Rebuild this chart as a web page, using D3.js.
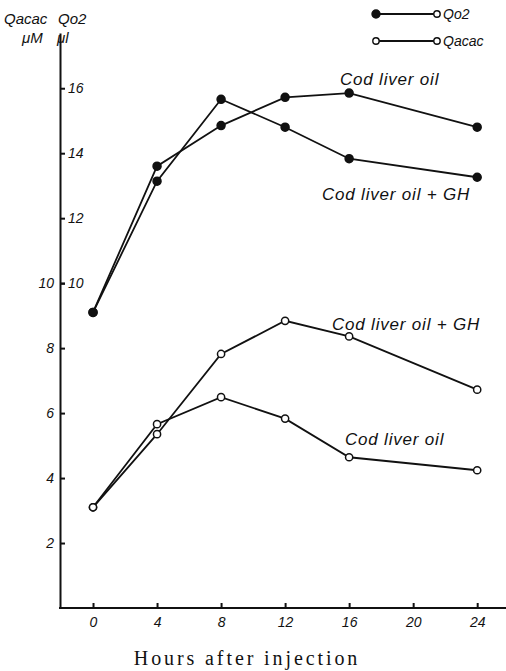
<!DOCTYPE html>
<html>
<head>
<meta charset="utf-8">
<script src="https://cdn.jsdelivr.net/npm/d3@7"></script>
<style>
  body { margin: 0; background: #fff; }
  svg text { fill: #111; }
  .axis path, .axis line { stroke: #111; stroke-width: 2; }
  .axis text { font-family: "Liberation Sans", sans-serif; font-style: italic; font-size: 14px; }
</style>
</head>
<body>
<div class="canvas"></div>
<script>
// hours after injection
const hours = [0, 4, 8, 12, 16, 24];
const xTicks = [0, 4, 8, 12, 16, 20, 24];
const leftTicks = [2, 4, 6, 8, 10];
const rightTicks = [10, 12, 14, 16];

// Qo2 (ul), filled circles
const qo2Cod = [9.1, 13.6, 14.85, 15.72, 15.85, 14.8];
const qo2CodGH = [9.1, 13.14, 15.66, 14.8, 13.83, 13.26];
// Qacac (uM), open circles
const qacacCodGH = [3.1, 5.35, 7.82, 8.84, 8.36, 6.72];
const qacacCod = [3.1, 5.66, 6.49, 5.83, 4.64, 4.24];

const width = 506, height = 671;

const svg = d3.select(".canvas")
    .append("svg")
    .attr("width", width)
    .attr("height", height);

const x = d3.scaleLinear().domain([-2, 25.8]).range([61, 506]);
const y = d3.scaleLinear().domain([0, 17.7]).range([608, 33]);
const axisX = x(-2) - 1;

// axes
const xAxis = d3.axisBottom(x)
    .tickValues(xTicks)
    .tickSizeInner(-5)
    .tickSizeOuter(0)
    .tickPadding(9);
svg.append("g")
    .attr("class", "axis")
    .attr("transform", `translate(0, ${y(0)})`)
    .call(xAxis)
    .call(g => g.select(".domain").attr("d", `M${axisX - 1},0H506`));

const yLeft = d3.axisLeft(y)
    .tickValues(leftTicks)
    .tickSizeInner(-5)
    .tickSizeOuter(0)
    .tickPadding(6);
svg.append("g")
    .attr("class", "axis")
    .attr("transform", `translate(${axisX}, 0)`)
    .call(yLeft);

const yRight = d3.axisRight(y)
    .tickValues(rightTicks)
    .tickSizeInner(5)
    .tickSizeOuter(0)
    .tickPadding(3);
svg.append("g")
    .attr("class", "axis")
    .attr("transform", `translate(${axisX}, 0)`)
    .call(yRight)
    .call(g => g.select(".domain").remove());

svg.selectAll(".axis text").attr("fill", "#111");

// series
const line = d3.line()
    .x((d, i) => x(hours[i]))
    .y(d => y(d));

const series = [
    { values: qo2Cod, filled: true },
    { values: qo2CodGH, filled: true },
    { values: qacacCodGH, filled: false },
    { values: qacacCod, filled: false }
];

series.forEach(s => {
    svg.append("path")
        .datum(s.values)
        .attr("d", line)
        .attr("fill", "none")
        .attr("stroke", "#111")
        .attr("stroke-width", 1.8);

    svg.append("g")
        .selectAll("circle")
        .data(s.values)
        .enter()
        .append("circle")
        .attr("cx", (d, i) => x(hours[i]))
        .attr("cy", d => y(d))
        .attr("r", s.filled ? 4 : 3.6)
        .attr("fill", s.filled ? "#111" : "#fff")
        .attr("stroke", "#111")
        .attr("stroke-width", 1.5);
});

// curve labels
const labels = [
    { text: "Cod liver oil", x: 340, y: 85 },
    { text: "Cod liver oil + GH", x: 322, y: 200 },
    { text: "Cod liver oil + GH", x: 332, y: 330 },
    { text: "Cod liver oil", x: 345, y: 445 }
];
svg.selectAll(".curve-label")
    .data(labels)
    .enter()
    .append("text")
    .attr("class", "curve-label")
    .attr("x", d => d.x)
    .attr("y", d => d.y)
    .style("font-family", "Liberation Sans, sans-serif")
    .style("font-style", "italic")
    .style("font-size", "17px")
    .style("letter-spacing", "0.8px")
    .text(d => d.text);

// axis unit titles
const unitText = [
    { text: "Qacac", x: 4, y: 24 },
    { text: "Qo2", x: 58, y: 24 },
    { text: "μM", x: 22, y: 43 },
    { text: "μl", x: 57, y: 43 }
];
svg.selectAll(".unit")
    .data(unitText)
    .enter()
    .append("text")
    .attr("x", d => d.x)
    .attr("y", d => d.y)
    .style("font-family", "Liberation Sans, sans-serif")
    .style("font-style", "italic")
    .style("font-size", "15px")
    .text(d => d.text);

// legend
const legend = [
    { text: "Qo2", y: 14, filled: true },
    { text: "Qacac", y: 41, filled: false }
];
const lg = svg.append("g");
legend.forEach(l => {
    lg.append("line")
        .attr("x1", 376).attr("x2", 437)
        .attr("y1", l.y).attr("y2", l.y)
        .attr("stroke", "#111").attr("stroke-width", 1.8);
    lg.append("circle")
        .attr("cx", 376).attr("cy", l.y).attr("r", l.filled ? 4 : 3.2)
        .attr("fill", l.filled ? "#111" : "#fff")
        .attr("stroke", "#111").attr("stroke-width", 1.4);
    lg.append("circle")
        .attr("cx", 437).attr("cy", l.y).attr("r", 3.2)
        .attr("fill", "#fff")
        .attr("stroke", "#111").attr("stroke-width", 1.4);
    lg.append("text")
        .attr("x", 443).attr("y", l.y + 5)
        .style("font-family", "Liberation Sans, sans-serif")
        .style("font-style", "italic")
        .style("font-size", "14px")
        .text(l.text);
});

// x title
svg.append("text")
    .attr("x", 247)
    .attr("y", 665)
    .attr("text-anchor", "middle")
    .style("font-family", "Liberation Serif, serif")
    .style("font-size", "20px")
    .style("letter-spacing", "2.9px")
    .text("Hours after injection");
</script>
</body>
</html>
